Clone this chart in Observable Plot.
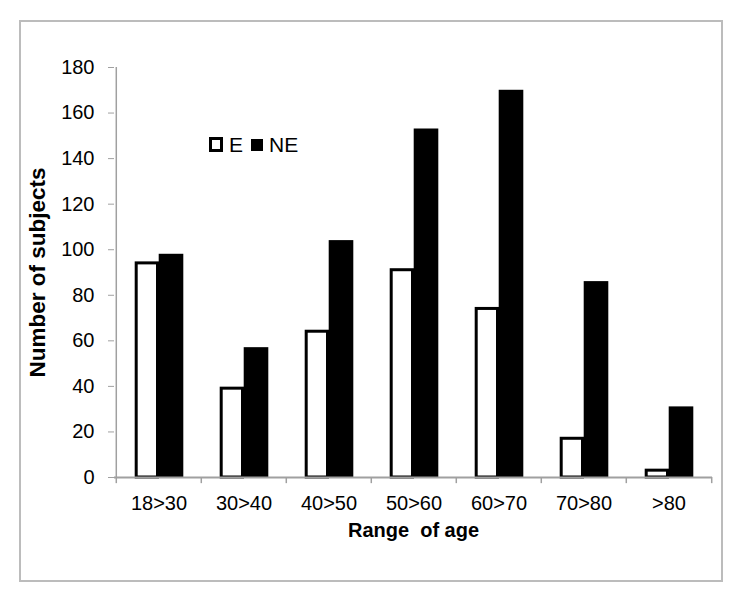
<!DOCTYPE html>
<html>
<head>
<meta charset="utf-8">
<script src="https://cdn.jsdelivr.net/npm/d3@7"></script>
<script src="https://cdn.jsdelivr.net/npm/@observablehq/plot@0.6"></script>
<style>
  html, body { margin: 0; padding: 0; background: #fff; }
  #wrap { position: relative; width: 744px; height: 603px; overflow: hidden; font-family: "Liberation Sans", Arial, sans-serif; }
  #border { position: absolute; left: 19px; top: 20px; width: 704px; height: 562px; box-sizing: border-box; border: 2px solid #bcbcbc; pointer-events: none; }
  #chart { position: absolute; left: 0; top: 0; }
  #chart svg text { font-size: 20px !important; font-family: "Liberation Sans", Arial, sans-serif !important; }
  #chart svg g.ytitle text { font-size: 22.5px !important; font-weight: bold; }
  #chart svg g.xtitle text { font-size: 20px !important; font-weight: bold; white-space: pre; }
  #legend { position: absolute; left: 209px; top: 133px; height: 24px; font-size: 21px; color: #000; line-height: 24px; white-space: nowrap; }
  #legend .sw { position: absolute; box-sizing: border-box; }
  #legend .lab { position: absolute; top: 0; }
</style>
</head>
<body>
<div id="wrap">
  <div id="chart"></div>
  <div id="border"></div>
  <div id="legend"></div>
</div>
<script>
const categories = ["18>30", "30>40", "40>50", "50>60", "60>70", "70>80", ">80"];
const seriesNames = ["E", "NE"];
const eValues = [94, 39, 64, 91, 74, 17, 3];
const neValues = [98, 57, 104, 153, 170, 86, 31];
const yTicks = [0, 20, 40, 60, 80, 100, 120, 140, 160, 180];
const xTitle = "Range  of age";
const yTitle = "Number of subjects";

const eRows = categories.map((c, i) => ({age: c, series: seriesNames[0], value: eValues[i]}));
const neRows = categories.map((c, i) => ({age: c, series: seriesNames[1], value: neValues[i]}));

const W = 744, H = 603, mL = 114, mR = 32, mT = 67, mB = 126;
const bw = (W - mL - mR) / categories.length;

const chart = Plot.plot({
  width: W,
  height: H,
  marginLeft: mL,
  marginRight: mR,
  marginTop: mT,
  marginBottom: mB,
  x: {domain: categories, padding: 0, label: null, axis: null},
  y: {domain: [0, 180], label: null, axis: null},
  style: {fontFamily: "'Liberation Sans', Arial, sans-serif", fontSize: "20px", color: "#000", background: "transparent", overflow: "visible"},
  marks: [
    Plot.barY(eRows, {x: "age", y: "value", fill: "white", stroke: "black", strokeWidth: 3, insetLeft: 20.2, insetRight: 43.5}),
    Plot.barY(neRows, {x: "age", y: "value", fill: "black", insetLeft: 42.7, insetRight: 17.7}),
    Plot.ruleY([0], {stroke: "#a0a0a0", strokeWidth: 2}),
    Plot.ruleX([categories[0]], {x: d => d, dx: -bw / 2, stroke: "#a0a0a0", strokeWidth: 1.5}),
    Plot.ruleX(categories, {x: d => d, dx: -bw / 2, y1: 0, y2: -2.7, stroke: "#a0a0a0", strokeWidth: 1.5}),
    Plot.ruleX([categories[categories.length - 1]], {x: d => d, dx: bw / 2, y1: 0, y2: -2.7, stroke: "#a0a0a0", strokeWidth: 1.5}),
    Plot.axisY({ticks: yTicks, tickSize: 6, tickPadding: 14, stroke: "#a0a0a0", fill: "#000", label: null}),
    Plot.axisX({tickSize: 0, tickPadding: 18, label: null, fill: "#000"}),
    Plot.text([yTitle], {text: d => d, frameAnchor: "left", textAnchor: "middle", dx: -77, rotate: -90, fill: "#000", className: "ytitle"}),
    Plot.text([xTitle], {text: d => d, frameAnchor: "bottom", textAnchor: "middle", dy: 59, fill: "#000", className: "xtitle"})
  ]
});
chart.querySelectorAll("text").forEach(t => { if (t.textContent.includes("  ")) t.setAttribute("xml:space", "preserve"); });
document.getElementById("chart").appendChild(chart);

// legend
const legend = document.getElementById("legend");
const items = [
  {name: seriesNames[0], sw: {left: 0, top: 4, width: 14, height: 15, border: "3px solid #000", background: "#fff"}, labLeft: 20},
  {name: seriesNames[1], sw: {left: 42, top: 6, width: 12, height: 12, border: "none", background: "#000"}, labLeft: 60}
];
items.forEach(it => {
  const s = document.createElement("span");
  s.className = "sw";
  Object.assign(s.style, {left: it.sw.left + "px", top: it.sw.top + "px", width: it.sw.width + "px", height: it.sw.height + "px", border: it.sw.border, background: it.sw.background});
  legend.appendChild(s);
  const l = document.createElement("span");
  l.className = "lab";
  l.style.left = it.labLeft + "px";
  l.textContent = it.name;
  legend.appendChild(l);
});
</script>
</body>
</html>
